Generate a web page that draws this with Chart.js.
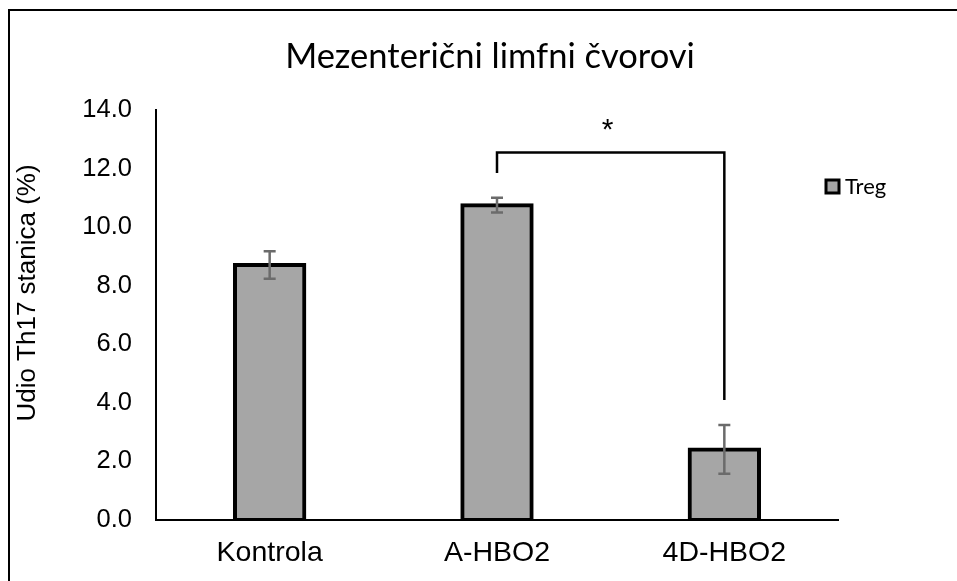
<!DOCTYPE html>
<html>
<head>
<meta charset="utf-8">
<script src="https://cdn.jsdelivr.net/npm/chart.js@4"></script>
<style>
  html, body { margin: 0; padding: 0; background: #fff; }
  #wrap { width: 957px; height: 581px; position: relative; }
</style>
</head>
<body>
<div id="wrap"><canvas id="c" width="957" height="581"></canvas></div>
<script>
// ---- data ----
const categories = ['Kontrola', 'A-HBO2', '4D-HBO2'];
const seriesName = 'Treg';
const values = [8.71, 10.75, 2.41];
const errors = [0.47, 0.25, 0.83];
const yTicks = [0, 2, 4, 6, 8, 10, 12, 14];
const chartTitle = 'Mezenterični limfni čvorovi';
const yTitle = 'Udio Th17 stanica (%)';
// significance bracket: from category index 1 to 2
const bracketFrom = [1, 11.85];   // [category, lower end value]
const bracketTo = [2, 4.1];
const bracketLevel = 12.55;
const starLevel = 13.5;
const starText = '*';

const annot = {
  id: 'annot',
  afterDatasetsDraw(chart) {
    const ctx = chart.ctx;
    const xs = chart.scales.x, ys = chart.scales.y;
    ctx.save();
    // error bars
    ctx.strokeStyle = '#6b6b6b';
    ctx.lineWidth = 2.5;
    values.forEach((v, i) => {
      const x = xs.getPixelForValue(i);
      const yt = ys.getPixelForValue(v + errors[i]);
      const yb = ys.getPixelForValue(v - errors[i]);
      ctx.beginPath();
      ctx.moveTo(x, yt); ctx.lineTo(x, yb);
      ctx.moveTo(x - 6, yt); ctx.lineTo(x + 6, yt);
      ctx.moveTo(x - 6, yb); ctx.lineTo(x + 6, yb);
      ctx.stroke();
    });
    // bracket
    ctx.strokeStyle = '#000';
    ctx.lineWidth = 2.5;
    const x1 = xs.getPixelForValue(bracketFrom[0]);
    const x2 = xs.getPixelForValue(bracketTo[0]);
    const yl = ys.getPixelForValue(bracketLevel);
    ctx.beginPath();
    ctx.moveTo(x1, ys.getPixelForValue(bracketFrom[1]));
    ctx.lineTo(x1, yl); ctx.lineTo(x2, yl);
    ctx.lineTo(x2, ys.getPixelForValue(bracketTo[1]));
    ctx.stroke();
    ctx.fillStyle = '#000';
    ctx.font = '30px "Liberation Sans", Arial, sans-serif';
    ctx.textAlign = 'center';
    ctx.textBaseline = 'middle';
    ctx.fillText(starText, (x1 + x2) / 2 - 3, ys.getPixelForValue(starLevel) + 6);
    ctx.restore();
  },
  afterDraw(chart) {
    const ctx = chart.ctx;
    ctx.save();
    // frame (top + left)
    ctx.strokeStyle = '#000';
    ctx.lineWidth = 2;
    ctx.beginPath();
    ctx.moveTo(9, 581); ctx.lineTo(9, 10); ctx.lineTo(957, 10);
    ctx.stroke();
    // title
    ctx.fillStyle = '#000';
    ctx.font = '34.5px Lato, "Open Sans", sans-serif';
    ctx.textAlign = 'center';
    ctx.textBaseline = 'middle';
    ctx.fillText(chartTitle, 490, 57);
    // y title
    ctx.save();
    ctx.translate(28, 293);
    ctx.rotate(-Math.PI / 2);
    ctx.font = '26px "Liberation Sans", Arial, sans-serif';
    ctx.fillText(yTitle, 0, 0);
    ctx.restore();
    // legend
    ctx.fillStyle = '#a6a6a6';
    ctx.fillRect(826, 180, 13, 13);
    ctx.strokeStyle = '#000';
    ctx.lineWidth = 3;
    ctx.strokeRect(826, 180, 13, 13);
    ctx.fillStyle = '#000';
    ctx.font = '22px Lato, "Open Sans", sans-serif';
    ctx.textAlign = 'left';
    ctx.fillText(seriesName, 845, 187);
    ctx.restore();
  }
};

new Chart(document.getElementById('c'), {
  type: 'bar',
  data: {
    labels: categories,
    datasets: [{
      label: seriesName,
      data: values,
      backgroundColor: '#a6a6a6',
      borderColor: '#000',
      borderWidth: 4,
      borderSkipped: false,
      inflateAmount: 2,
      barPercentage: 0.305,
      categoryPercentage: 1.0
    }]
  },
  options: {
    responsive: false,
    animation: false,
    devicePixelRatio: 1,
    layout: { padding: { left: 0, right: 119, top: 110, bottom: 0 } },
    plugins: { legend: { display: false }, title: { display: false }, tooltip: { enabled: false } },
    scales: {
      x: {
        offset: true,
        grid: { display: false, drawTicks: false },
        border: { display: true, color: '#000', width: 2 },
        ticks: { color: '#000', padding: 16, font: { family: '"Liberation Sans", Arial, sans-serif', size: 28.5 } },
        afterFit(s) { s.height = 61; }
      },
      y: {
        min: 0, max: 14,
        afterBuildTicks(s) { s.ticks = yTicks.map(v => ({ value: v })); },
        grid: { display: false, drawTicks: false },
        border: { display: true, color: '#000', width: 2 },
        ticks: {
          color: '#000', padding: 24,
          font: { family: '"Liberation Sans", Arial, sans-serif', size: 25.5 },
          callback: v => Number(v).toFixed(1)
        },
        afterFit(s) { s.width = 156; }
      }
    }
  },
  plugins: [annot]
});
</script>
</body>
</html>
